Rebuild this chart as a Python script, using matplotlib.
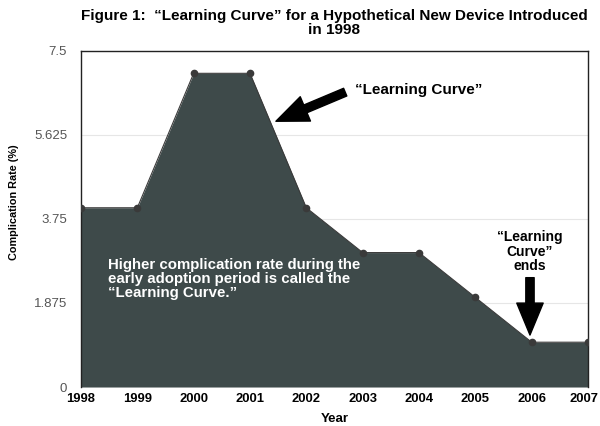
import matplotlib.pyplot as plt
from matplotlib.transforms import ScaledTranslation

plt.rcParams["font.family"] = ["Liberation Sans", "DejaVu Sans"]

years = [1998, 1999, 2000, 2001, 2002, 2003, 2004, 2005, 2006, 2007]
rates = [4, 4, 7, 7, 4, 3, 3, 2, 1, 1]
y_ticks = [0, 1.875, 3.75, 5.625, 7.5]
y_tick_labels = ["0", "1.875", "3.75", "5.625", "7.5"]

fig = plt.figure(figsize=(6, 4.26), dpi=100)
ax = fig.add_axes([0.135, 0.0915, 0.845, 0.789])

fill_color = "#3e4a4a"
ax.fill_between(years, rates, 0, color=fill_color, zorder=2, linewidth=0)
ax.plot(years, rates, color="#3a3a3a", linewidth=0.8, marker="o", markersize=4.5, zorder=3)

ax.set_xlim(1998, 2007)
ax.set_ylim(0, 7.5)
ax.set_xticks(years)
ax.set_xticklabels([str(y) for y in years], fontweight="bold", fontsize=9.4)
ax.set_yticks(y_ticks)
ax.set_yticklabels(y_tick_labels, fontsize=9.5, color="#555555")
ax.tick_params(axis="x", length=0, pad=4)
ax.tick_params(axis="y", length=0, pad=10)
ax.grid(axis="y", color="#e6e6e6", linewidth=0.8, zorder=1)

# keep the last year label inside the figure
last = ax.get_xticklabels()[-1]
last.set_transform(last.get_transform() + ScaledTranslation(-3 / 72, 0, fig.dpi_scale_trans))

for side in ["left", "top", "right"]:
    ax.spines[side].set_color("#222222")
    ax.spines[side].set_linewidth(1.0)
ax.spines["bottom"].set_visible(False)

ax.set_xlabel("Year", fontweight="bold", fontsize=9.5, labelpad=6)
ax.set_ylabel("Complication Rate (%)", fontweight="bold", fontsize=7.8)
ax.yaxis.set_label_coords(-0.122, 0.55)
ax.set_title("Figure 1:  \u201cLearning Curve\u201d for a Hypothetical New Device Introduced\nin 1998",
             fontweight="bold", fontsize=11, pad=12, linespacing=1.0)

arrow_style = "simple,head_width=1.9,head_length=2.3,tail_width=0.6"
ax.annotate("", xy=(2001.46, 5.93), xytext=(2002.69, 6.58),
            arrowprops=dict(arrowstyle=arrow_style, color="black", shrinkA=0, shrinkB=0), zorder=5)
ax.text(2002.86, 6.63, "\u201cLearning Curve\u201d", fontweight="bold", fontsize=11,
        va="center", ha="left", zorder=5)

ax.annotate("", xy=(2005.97, 1.16), xytext=(2005.97, 2.44),
            arrowprops=dict(arrowstyle=arrow_style, color="black", shrinkA=0, shrinkB=0), zorder=5)
ax.text(2005.97, 3.02, "\u201cLearning\nCurve\u201d\nends", fontweight="bold", fontsize=10,
        va="center", ha="center", linespacing=1.05, zorder=5)

ax.text(1998.48, 2.40, "Higher complication rate during the\nearly adoption period is called the\n\u201cLearning Curve.\u201d",
        color="white", fontweight="bold", fontsize=10.8, va="center", ha="left", linespacing=1.0, zorder=5)

fig.savefig("out.png", dpi=100)
